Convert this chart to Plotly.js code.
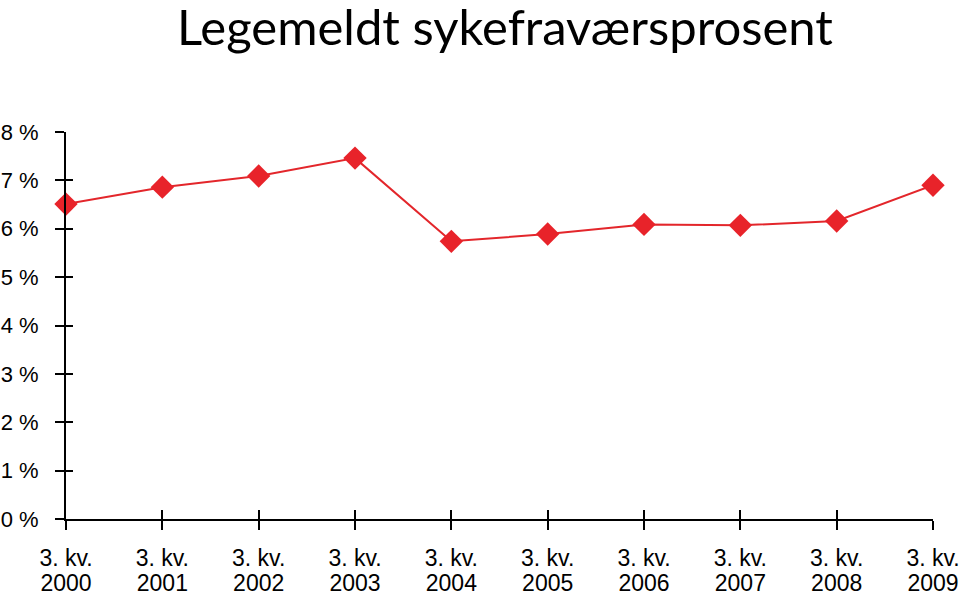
<!DOCTYPE html>
<html>
<head>
<meta charset="utf-8">
<script src="https://cdn.plot.ly/plotly-3.0.1.min.js"></script>
<style>html,body{margin:0;padding:0;background:#fff}#chart{width:960px;height:597px}</style>
</head>
<body>
<div id="chart"></div>
<script>
var quarterLabels = ["3. kv.","3. kv.","3. kv.","3. kv.","3. kv.","3. kv.","3. kv.","3. kv.","3. kv.","3. kv."];
var years = ["2000","2001","2002","2003","2004","2005","2006","2007","2008","2009"];
var values = [6.51, 6.86, 7.09, 7.46, 5.74, 5.89, 6.09, 6.07, 6.16, 6.90];
var yTickVals = [0,1,2,3,4,5,6,7,8];
var yTickText = ["0 %","1 %","2 %","3 %","4 %","5 %","6 %","7 %","8 %"];
var titleText = "Legemeldt sykefraværsprosent";

var xIdx = years.map(function(_, i){ return i; });

var traces = [
  {x: xIdx, y: values, xaxis: 'x', yaxis: 'y', type: 'scatter', mode: 'lines+markers',
   line: {color: '#E3262B', width: 2},
   marker: {symbol: 'diamond', size: 18, color: '#E8232A'},
   showlegend: false, hoverinfo: 'skip', cliponaxis: false},
  {x: xIdx, y: values, xaxis: 'x2', yaxis: 'y2', type: 'scatter', mode: 'lines',
   line: {width: 0}, opacity: 0, showlegend: false, hoverinfo: 'skip'}
];

var tickFont = {family: 'Liberation Sans, Arial, sans-serif', size: 23, color: '#000'};
var yTickFont = {family: 'Liberation Sans, Arial, sans-serif', size: 22, color: '#000'};

var baseX = {range: [0, 9], tickvals: xIdx, showgrid: false, zeroline: false,
  showline: true, linecolor: '#000', linewidth: 2, tickcolor: '#000', tickwidth: 2, fixedrange: true,
  tickfont: tickFont, ticklabeloverflow: 'allow'};
var baseY = {range: [0, 8], tickvals: yTickVals, showgrid: false, zeroline: false,
  showline: true, linecolor: '#000', linewidth: 2, tickcolor: '#000', tickwidth: 2, fixedrange: true};

var layout = {
  width: 960, height: 597,
  margin: {l: 66, r: 27, t: 132, b: 78},
  paper_bgcolor: '#fff', plot_bgcolor: '#fff',
  title: {text: titleText, x: 0.526, xanchor: 'center', y: 0.953, yanchor: 'middle',
    font: {family: 'Lato, "Open Sans", sans-serif', size: 49, color: '#000'}},
  xaxis: Object.assign({}, baseX, {ticks: 'outside', ticklen: 9, ticktext: quarterLabels,
    ticklabelstandoff: 8}),
  xaxis2: Object.assign({}, baseX, {overlaying: 'x', anchor: 'y', side: 'bottom', ticks: 'inside', ticklen: 9,
    ticktext: years, ticklabelstandoff: 42}),
  yaxis: Object.assign({}, baseY, {ticks: 'outside', ticklen: 9, ticktext: yTickText,
    tickfont: yTickFont, ticklabelstandoff: 12}),
  yaxis2: Object.assign({}, baseY, {overlaying: 'y', anchor: 'x', ticks: 'inside', ticklen: 7,
    showticklabels: false})
};

Plotly.newPlot('chart', traces, layout, {displayModeBar: false, staticPlot: true});
</script>
</body>
</html>
